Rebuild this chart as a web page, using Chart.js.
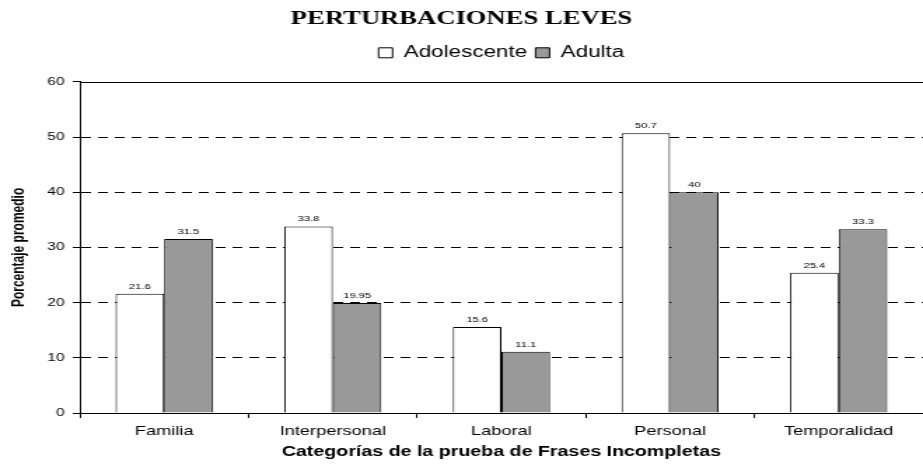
<!DOCTYPE html>
<html>
<head>
<meta charset="utf-8">
<title>Perturbaciones leves</title>
<script src="https://cdn.jsdelivr.net/npm/chart.js@4.4.0/dist/chart.umd.min.js"></script>
<style>
  html, body { margin: 0; padding: 0; background: #fff; }
</style>
</head>
<body>
<!-- the source picture is stretched sideways, so draw narrow and widen with css -->
<canvas id="chart" width="659" height="465" style="display:block;width:923px;height:465px"></canvas>
<script>
// Chart data
const categories = ["Familia", "Interpersonal", "Laboral", "Personal", "Temporalidad"];
const adolescente = [21.6, 33.8, 15.6, 50.7, 25.4];
const adulta = [31.5, 19.95, 11.1, 40, 33.3];
const yTicks = [0, 10, 20, 30, 40, 50, 60];

const sans = "'Liberation Sans', Arial, sans-serif";
const yMax = yTicks[yTicks.length - 1];

// Value labels above each bar
const valueLabels = {
  id: "valueLabels",
  afterDatasetsDraw: function (chart) {
    const ctx = chart.ctx;
    ctx.save();
    ctx.font = "8px " + sans;
    ctx.fillStyle = "#000";
    ctx.textAlign = "center";
    ctx.textBaseline = "alphabetic";
    chart.data.datasets.forEach(function (ds, i) {
      chart.getDatasetMeta(i).data.forEach(function (bar, j) {
        ctx.fillText(String(ds.data[j]), bar.x, bar.y - 5);
      });
    });
    ctx.restore();
  },
};

// Solid line at the top of the value axis
const topLine = {
  id: "topLine",
  beforeDatasetsDraw: function (chart) {
    const area = chart.chartArea;
    const y = Math.round(chart.scales.y.getPixelForValue(yMax)) + 0.5;
    const ctx = chart.ctx;
    ctx.save();
    ctx.strokeStyle = "#000";
    ctx.lineWidth = 1;
    ctx.beginPath();
    ctx.moveTo(area.left, y);
    ctx.lineTo(area.right, y);
    ctx.stroke();
    ctx.restore();
  },
};

document.addEventListener("DOMContentLoaded", function () {
  const ctx = document.getElementById("chart").getContext("2d");

  const chart = new Chart(ctx, {
    type: "bar",
    data: {
      labels: categories,
      datasets: [
        {
          label: "Adolescente",
          data: adolescente,
          backgroundColor: "#ffffff",
          borderColor: "#000000",
          borderWidth: 1,
        },
        {
          label: "Adulta",
          data: adulta,
          backgroundColor: "#999999",
          borderColor: "#000000",
          borderWidth: 1,
        },
      ],
    },
    options: {
      responsive: false,
      animation: false,
      devicePixelRatio: 1,
      categoryPercentage: 0.576,
      barPercentage: 1,
      layout: { padding: 0 },
      plugins: {
        title: {
          display: true,
          text: "PERTURBACIONES LEVES",
          color: "#000",
          font: { family: "'Liberation Serif', 'Times New Roman', serif", size: 19, weight: "bold" },
          padding: { top: 8, bottom: 8 },
        },
        legend: {
          position: "top",
          fullSize: false,
          weight: 1800,
          labels: {
            boxWidth: 10,
            boxHeight: 10,
            padding: 6,
            color: "#000",
            font: { family: sans, size: 16 },
          },
        },
        // empty spacer between legend and plot
        subtitle: {
          display: true,
          text: "",
          font: { size: 11, lineHeight: 1 },
          padding: 0,
        },
        tooltip: { enabled: false },
      },
      scales: {
        x: {
          grid: {
            display: true,
            drawOnChartArea: false,
            drawTicks: true,
            tickLength: 5,
            color: "#000",
            offset: true,
          },
          border: { display: true, color: "#000", width: 1 },
          ticks: { color: "#000", font: { family: sans, size: 13 }, padding: 6 },
          title: {
            display: true,
            text: "Categorías de la prueba de Frases Incompletas",
            color: "#000",
            font: { family: sans, size: 14, weight: "bold" },
            padding: { top: 0, bottom: 4 },
          },
          afterFit: function (scale) {
            scale.height = 52;
          },
        },
        y: {
          min: yTicks[0],
          max: yMax,
          ticks: { stepSize: 10, color: "#000", font: { family: sans, size: 11 }, padding: 6 },
          grid: {
            // top line is drawn solid by the plugin
            color: function (c) {
              return c.tick && c.tick.value === yMax ? "rgba(0,0,0,0)" : "#000";
            },
            tickColor: "#000",
            lineWidth: 1,
            tickLength: 5,
          },
          border: { display: true, color: "#000", width: 1, dash: [7, 5] },
          title: {
            display: true,
            text: "Porcentaje promedio",
            color: "#000",
            font: { family: sans, size: 12, weight: "bold" },
            padding: { top: 6, bottom: 0 },
          },
          afterFit: function (scale) {
            scale.width = 57;
          },
        },
      },
    },
    plugins: [topLine, valueLabels],
  });
});
</script>
</body>
</html>
